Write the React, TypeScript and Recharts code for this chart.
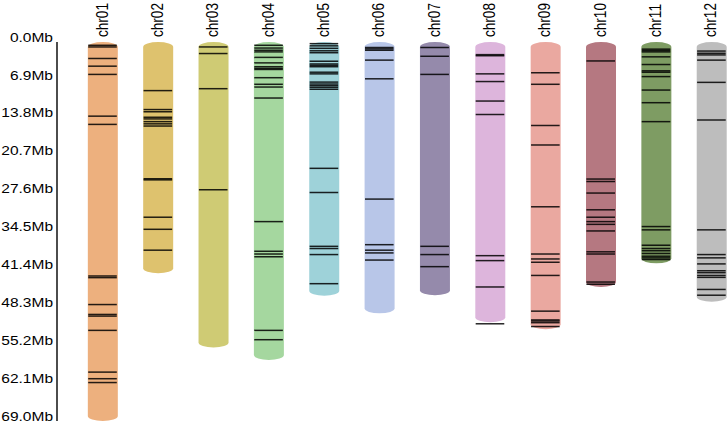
import React from 'react';
import { ComposedChart, Bar, Scatter, XAxis, YAxis } from 'recharts';

// chromosome names, lengths (Mb) and fill colours
const chromosomes = ['chr01', 'chr02', 'chr03', 'chr04', 'chr05', 'chr06', 'chr07', 'chr08', 'chr09', 'chr10', 'chr11', 'chr12'];
const lengths = [69.0, 42.1, 55.6, 57.9, 46.2, 49.4, 46.1, 51.0, 52.3, 44.6, 40.3, 47.3];
const colors = ['#EDB07E', '#DEC26E', '#CFCB74', '#A5D79F', '#9ED2D9', '#B8C6E8', '#958AAB', '#DDB5DC', '#EAA8A0', '#B57881', '#7E9C63', '#BDBDBD'];

// gene positions (Mb) on each chromosome
const chr01Genes = [0.6, 0.9, 3.0, 4.4, 5.9, 13.5, 15.0, 42.6, 42.9, 47.8, 49.6, 49.9, 52.5, 60.1, 61.3, 62.0];
const chr02Genes = [8.85, 12.3, 12.7, 13.7, 14.0, 14.5, 14.9, 15.3, 24.9, 25.1, 31.9, 34.1, 37.9];
const chr03Genes = [0.9, 2.1, 8.5, 26.9];
const chr04Genes = [0.6, 1.1, 1.5, 1.8, 2.8, 3.8, 4.5, 4.8, 5.0, 6.5, 7.7, 8.2, 10.2, 32.7, 38.1, 38.6, 39.1, 52.5, 54.2];
const chr05Genes = [0.3, 0.7, 1.15, 1.6, 1.95, 3.5, 4.0, 4.25, 4.5, 5.5, 5.8, 7.3, 7.65, 7.95, 8.25, 8.6, 23.0, 27.4, 37.2, 37.6, 38.7, 44.0];
const chr06Genes = [1.0, 1.25, 1.5, 3.3, 6.7, 28.6, 36.9, 37.9, 38.4, 39.7];
const chr07Genes = [1.0, 2.6, 5.9, 37.2, 38.7, 40.9];
const chr08Genes = [2.3, 2.5, 5.8, 7.2, 10.75, 13.2, 38.9, 39.8, 44.6, 51.3];
const chr09Genes = [5.6, 7.7, 15.2, 18.75, 30.0, 38.6, 39.5, 40.1, 42.5, 49.0, 50.6, 50.8, 51.1, 51.8];
const chr10Genes = [3.45, 24.95, 25.4, 27.5, 30.55, 31.9, 32.7, 33.2, 34.4, 38.2, 38.6, 43.7, 44.1];
const chr11Genes = [1.3, 1.55, 1.8, 2.7, 4.1, 5.25, 5.5, 6.3, 8.75, 11.05, 14.5, 33.6, 34.2, 37.0, 37.6, 38.0, 38.5, 39.0, 39.3, 39.6];
const chr12Genes = [1.65, 2.05, 2.35, 3.3, 7.35, 14.2, 34.2, 38.7, 39.3, 40.4, 41.65, 42.0, 42.5, 42.85, 45.05, 46.1];

const yTicks = [0, 6.9, 13.8, 20.7, 27.6, 34.5, 41.4, 48.3, 55.2, 62.1, 69.0];

const geneLists = [chr01Genes, chr02Genes, chr03Genes, chr04Genes, chr05Genes, chr06Genes, chr07Genes, chr08Genes, chr09Genes, chr10Genes, chr11Genes, chr12Genes];

const chromData = chromosomes.map((name, i) => ({ idx: i + 1, name, len: lengths[i], color: colors[i] }));
const geneData = geneLists.flatMap((list, i) => list.map((pos) => ({ idx: i + 1, pos })));

const FONT = '"Liberation Sans", Arial, sans-serif';

const ChromShape = (props: any) => {
  const { x, y, width, height, payload } = props;
  const top = Math.min(y, y + height);
  const h = Math.abs(height);
  return <rect x={x} y={top} width={width} height={h} rx={width / 2} ry={5} fill={payload.color} />;
};

const GeneMark = (props: any) => {
  const { cx, cy } = props;
  return <line x1={cx - 14.3} x2={cx + 14.3} y1={cy} y2={cy} stroke="#000" strokeWidth={1.5} strokeOpacity={0.85} />;
};

const ChromTick = (props: any) => {
  const { x, payload } = props;
  const label = chromosomes[payload.value - 1];
  return (
    <text
      transform={`translate(${x + 5}, 37) rotate(-90) scale(0.97, 1.12)`}
      textAnchor="start"
      fontSize={14}
      fontFamily={FONT}
      fill="#000"
    >
      {label}
    </text>
  );
};

const MbTick = (props: any) => {
  const { y, payload } = props;
  return (
    <g transform={`translate(53, ${y - 5}) scale(1.15, 1)`}>
      <text x={0} y={0} textAnchor="end" dominantBaseline="central" fontSize={13.5} fontFamily={FONT} fill="#000">
        {`${payload.value.toFixed(1)}Mb`}
      </text>
    </g>
  );
};

export default function App() {
  return (
    <div style={{ position: 'absolute', left: 0, top: 0, background: '#fff' }}>
      <ComposedChart width={728} height={425} data={chromData} margin={{ top: 0, right: 0, bottom: 4, left: 0 }}>
        <XAxis
          xAxisId="chr"
          dataKey="idx"
          type="number"
          orientation="top"
          domain={[0.178, 12.3]}
          ticks={chromData.map((d) => d.idx)}
          interval={0}
          height={42}
          axisLine={false}
          tickLine={false}
          tick={<ChromTick />}
          allowDataOverflow
        />
        <YAxis
          yAxisId="mb"
          dataKey="pos"
          type="number"
          reversed
          domain={[0, 69]}
          ticks={yTicks}
          interval={0}
          width={57}
          tickLine={false}
          axisLine={{ stroke: '#000', strokeWidth: 1.4 }}
          tick={<MbTick />}
          allowDataOverflow
        />
        <Bar xAxisId="chr" yAxisId="mb" dataKey="len" barSize={30} shape={<ChromShape />} isAnimationActive={false} />
        <Scatter xAxisId="chr" yAxisId="mb" data={geneData} dataKey="pos" shape={<GeneMark />} isAnimationActive={false} />
      </ComposedChart>
    </div>
  );
}
